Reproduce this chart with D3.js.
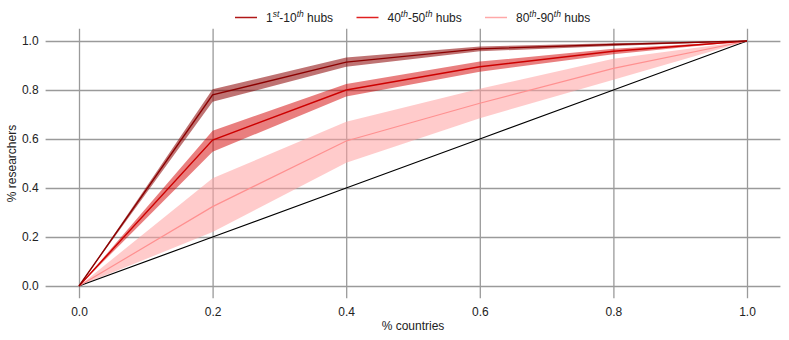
<!DOCTYPE html>
<html>
<head>
<meta charset="utf-8">
<script src="https://cdn.jsdelivr.net/npm/d3@7"></script>
<style>
  html, body { margin: 0; padding: 0; background: #fff; }
  svg text { font-family: "Liberation Sans", Arial, sans-serif; fill: #222; }
</style>
</head>
<body>
<svg id="chart" width="789" height="340"></svg>
<script>
// ---- data ----
const xValues = [0.0, 0.2, 0.4, 0.6, 0.8, 1.0];

const top10Mean  = [0.0, 0.780, 0.914, 0.968, 0.986, 1.0];
const top10Low   = [0.0, 0.752, 0.895, 0.958, 0.980, 1.0];
const top10High  = [0.0, 0.803, 0.933, 0.978, 0.991, 1.0];

const mid40Mean  = [0.0, 0.596, 0.800, 0.895, 0.958, 1.0];
const mid40Low   = [0.0, 0.548, 0.773, 0.875, 0.946, 1.0];
const mid40High  = [0.0, 0.634, 0.824, 0.916, 0.968, 1.0];

const low80Mean  = [0.0, 0.324, 0.592, 0.746, 0.888, 1.0];
const low80Low   = [0.0, 0.220, 0.503, 0.685, 0.842, 1.0];
const low80High  = [0.0, 0.440, 0.670, 0.805, 0.928, 1.0];

const diagonal   = [0.0, 0.2, 0.4, 0.6, 0.8, 1.0];

const xTicks = [0.0, 0.2, 0.4, 0.6, 0.8, 1.0];
const yTicks = [0.0, 0.2, 0.4, 0.6, 0.8, 1.0];

const legendLabels = [
  [["1", false], ["st", true], ["-10", false], ["th", true], [" hubs", false]],
  [["40", false], ["th", true], ["-50", false], ["th", true], [" hubs", false]],
  [["80", false], ["th", true], ["-90", false], ["th", true], [" hubs", false]]
];

// ---- chart ----
const svg = d3.select("#chart");
const x = d3.scaleLinear().domain([-0.05, 1.05]).range([45.6, 780.4]);
const y = d3.scaleLinear().domain([-0.05, 1.05]).range([298.25, 28.75]);

const gridColor = "#9a9a9a";
const fs = 12;

// grid via axes
const gx = svg.append("g")
  .attr("transform", `translate(0,${y(-0.05)})`)
  .call(d3.axisBottom(x).tickValues(xTicks).tickFormat(d3.format(".1f"))
        .tickSize(-(y(-0.05) - y(1.05))).tickPadding(8));
gx.attr("font-size", fs).attr("font-family", null);
gx.select(".domain").remove();
gx.selectAll("line").attr("stroke", gridColor).attr("stroke-width", 1.3);
gx.selectAll("text").attr("font-size", fs).attr("fill", "#222").attr("dy", "0.71em")
  .attr("y", 9);

const gy = svg.append("g")
  .attr("transform", `translate(${x(-0.05)},0)`)
  .call(d3.axisLeft(y).tickValues(yTicks).tickFormat(d3.format(".1f"))
        .tickSize(-(x(1.05) - x(-0.05))).tickPadding(8));
gy.attr("font-size", fs).attr("font-family", null);
gy.select(".domain").remove();
gy.selectAll("line").attr("stroke", gridColor).attr("stroke-width", 1.3);
gy.selectAll("text").attr("font-size", fs).attr("fill", "#222").attr("x", -7);

// series
const series = [
  { mean: top10Mean, low: top10Low, high: top10High, line: "#8b0000", fill: "#8b0000", op: 0.55, lw: 1.4 },
  { mean: mid40Mean, low: mid40Low, high: mid40High, line: "#cc0000", fill: "#d40000", op: 0.5, lw: 1.4 },
  { mean: low80Mean, low: low80Low, high: low80High, line: "#ff9090", fill: "#ffa0a0", op: 0.55, lw: 1.2 }
];

const area = d3.area()
  .x((d, i) => x(xValues[i]))
  .y0(d => y(d[0]))
  .y1(d => y(d[1]));
const line = d3.line().x((d, i) => x(xValues[i])).y(d => y(d));

series.slice().reverse().forEach(s => {
  const pts = s.low.map((v, i) => [v, s.high[i]]);
  svg.append("path").datum(pts).attr("d", area)
    .attr("fill", s.fill).attr("fill-opacity", s.op).attr("stroke", "none");
});

svg.append("path").datum(diagonal).attr("d", line)
  .attr("fill", "none").attr("stroke", "#000").attr("stroke-width", 1.2);

series.slice().reverse().forEach(s => {
  svg.append("path").datum(s.mean).attr("d", line)
    .attr("fill", "none").attr("stroke", s.line).attr("stroke-width", s.lw);
});

// axis labels
svg.append("text").attr("x", (x(0) + x(1)) / 2).attr("y", 330)
  .attr("text-anchor", "middle").attr("font-size", fs).text("% countries");
svg.append("text").attr("transform", `translate(16,${(y(0) + y(1)) / 2}) rotate(-90)`)
  .attr("text-anchor", "middle").attr("font-size", fs).text("% researchers");

// legend
const legendX = [235, 356.5, 485];
const legendColors = ["#b01818", "#e02020", "#ffa8a8"];
legendLabels.forEach((parts, i) => {
  const g = svg.append("g");
  g.append("line").attr("x1", legendX[i]).attr("x2", legendX[i] + 22)
    .attr("y1", 17.5).attr("y2", 17.5).attr("stroke", legendColors[i]).attr("stroke-width", 1.5);
  const t = g.append("text").attr("x", legendX[i] + 31).attr("y", 21.8).attr("font-size", fs);
  parts.forEach(([txt, sup], k) => {
    const ts = t.append("tspan").text(txt);
    if (sup) ts.attr("font-size", 8.5).attr("font-style", "italic").attr("dy", -4.5);
    else if (k > 0 && parts[k - 1][1]) ts.attr("dy", 4.5);
  });
});
</script>
</body>
</html>
